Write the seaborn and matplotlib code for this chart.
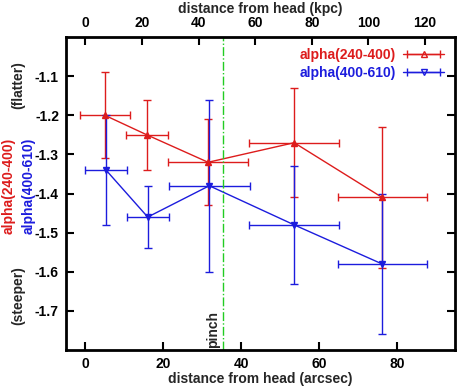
import numpy as np
import pandas as pd
import seaborn as sns
import matplotlib.pyplot as plt
from matplotlib.lines import Line2D
from matplotlib.container import ErrorbarContainer
from matplotlib.legend_handler import HandlerErrorbar

# distance from head (arcsec), spectral index values and errors
dist_240 = [5.0, 15.8, 31.5, 53.6, 76.2]
xerr_240 = [6.5, 5.5, 10.3, 11.5, 11.4]
alpha_240 = [-1.20, -1.25, -1.32, -1.27, -1.41]
yerr_240 = [0.11, 0.09, 0.11, 0.14, 0.18]

dist_400 = [5.3, 16.0, 31.8, 53.6, 76.2]
xerr_400 = [5.5, 5.4, 10.4, 11.5, 11.4]
alpha_400 = [-1.34, -1.46, -1.38, -1.48, -1.58]
yerr_400 = [0.14, 0.08, 0.22, 0.15, 0.18]

pinch = 35.4
kpc_per_arcsec = 1.376

red = '#dd1c1c'
blue = '#1c1cdd'

sns.set_style('ticks', {'axes.edgecolor': 'black', 'xtick.color': 'black',
                        'ytick.color': 'black'})
plt.rcParams['font.family'] = ['Liberation Sans', 'DejaVu Sans']
plt.rcParams['font.weight'] = 'bold'
plt.rcParams['font.size'] = 10

fig = plt.figure(figsize=(4.61, 3.86), dpi=100)
ax = fig.add_axes([0.143, 0.093, 0.845, 0.811])

df_240 = pd.DataFrame({'dist': dist_240, 'alpha': alpha_240})
df_400 = pd.DataFrame({'dist': dist_400, 'alpha': alpha_400})

sns.lineplot(data=df_240, x='dist', y='alpha', color=red, lw=1, ax=ax, legend=False)
sns.lineplot(data=df_400, x='dist', y='alpha', color=blue, lw=1, ax=ax, legend=False)

eb_240 = ax.errorbar(dist_240, alpha_240, xerr=xerr_240, yerr=yerr_240, fmt='^', color=red,
                     ms=4, mfc=red, elinewidth=1, capsize=3, capthick=1)
eb_400 = ax.errorbar(dist_400, alpha_400, xerr=xerr_400, yerr=yerr_400, fmt='v', color=blue,
                     ms=4, mfc=blue, elinewidth=1, capsize=3, capthick=1)

ax.axvline(pinch, color='#22cc22', lw=1, ls='-.')
ax.text(pinch - 0.8, -1.795, 'pinch', rotation=90, ha='right', va='bottom', fontsize=10,
        fontweight='bold')

ax.set_xlim(-5, 95)
ax.set_ylim(-1.8, -1.0)
ax.set_xticks([0, 20, 40, 60, 80])
ax.set_yticks([-1.7, -1.6, -1.5, -1.4, -1.3, -1.2, -1.1])
ax.set_yticklabels(['-1.7', '-1.6', '-1.5', '-1.4', '-1.3', '-1.2', '-1.1'])
ax.set_xlabel('distance from head (arcsec)', fontweight='bold', labelpad=1)
ax.set_ylabel('')
ax.tick_params(direction='in', length=6, width=1.5, top=False, right=True,
               labelsize=10, pad=5)
for s in ax.spines.values():
    s.set_linewidth(2)

top = ax.secondary_xaxis('top', functions=(lambda x: x * kpc_per_arcsec,
                                           lambda k: k / kpc_per_arcsec))
top.set_xticks([0, 20, 40, 60, 80, 100, 120])
top.set_xlabel('distance from head (kpc)', fontweight='bold', labelpad=2)
top.tick_params(direction='in', length=6, width=1.5, labelsize=10, pad=5)

# legend handles: horizontal bar only, open markers
handles = []
for eb, m, c, lab in [(eb_240, '^', red, 'alpha(240-400)'),
                      (eb_400, 'v', blue, 'alpha(400-610)')]:
    proxy = Line2D([], [], color=c, lw=1, marker=m, ms=5, mfc='none', mec=c)
    handles.append(ErrorbarContainer((proxy, eb[1], eb[2]), has_xerr=True,
                                     has_yerr=False, label=lab))

leg = ax.legend(handles=handles, loc='upper right', frameon=False, markerfirst=False,
                fontsize=10, handlelength=3.0, borderaxespad=0.4, labelspacing=0.3,
                handletextpad=0.5,
                handler_map={ErrorbarContainer: HandlerErrorbar(xerr_size=1.2)})
for t, c in zip(leg.get_texts(), [red, blue]):
    t.set_color(c)

fig.text(0.018, 0.518, 'alpha(240-400)', color=red, rotation=90, ha='center',
         va='center', fontweight='bold', fontsize=10)
fig.text(0.062, 0.518, 'alpha(400-610)', color=blue, rotation=90, ha='center',
         va='center', fontweight='bold', fontsize=10)
fig.text(0.040, 0.78, '(flatter)', rotation=90, ha='center', va='center',
         fontweight='bold', fontsize=10)
fig.text(0.040, 0.235, '(steeper)', rotation=90, ha='center', va='center',
         fontweight='bold', fontsize=10)

fig.savefig('out.png', dpi=100)
